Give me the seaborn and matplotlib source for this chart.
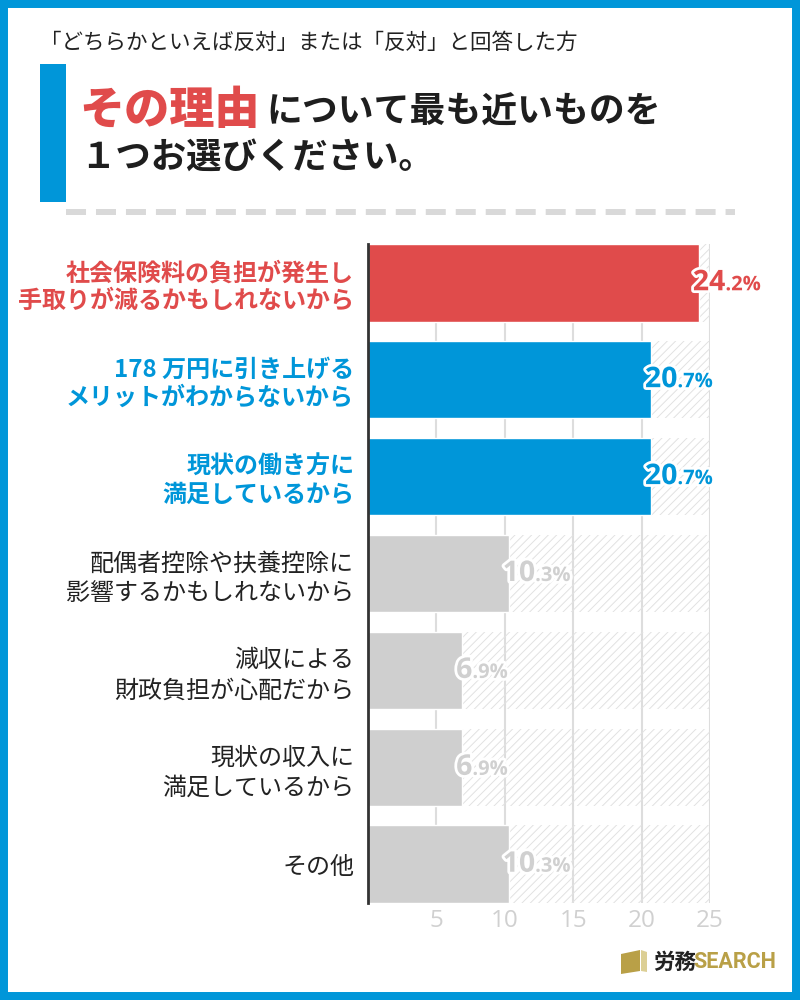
import matplotlib.pyplot as plt
import matplotlib.patheffects as pe
import seaborn as sns
import numpy as np
import pandas as pd
from matplotlib.offsetbox import TextArea, HPacker, AnnotationBbox
from matplotlib.patches import Rectangle, Polygon
from matplotlib.lines import Line2D

# データ
reasons = [
    '社会保険料の負担が発生し\n手取りが減るかもしれないから',
    '178 万円に引き上げる\nメリットがわからないから',
    '現状の働き方に\n満足しているから',
    '配偶者控除や扶養控除に\n影響するかもしれないから',
    '減収による\n財政負担が心配だから',
    '現状の収入に\n満足しているから',
    'その他',
]
shares = [24.2, 20.7, 20.7, 10.3, 6.9, 6.9, 10.3]
xticks = [5, 10, 15, 20, 25]

RED = '#e04b4b'
BLUE = '#0096d9'
GRAY = '#cfcfcf'
bar_colors = [RED, BLUE, BLUE, GRAY, GRAY, GRAY, GRAY]
label_colors = [RED, BLUE, BLUE, '#222222', '#222222', '#222222', '#222222']
value_colors = [RED, BLUE, BLUE, '#d0d0d0', '#d0d0d0', '#d0d0d0', '#d0d0d0']
label_bold = [True, True, True, False, False, False, False]

sns.set_theme(style='white')
plt.rcParams['font.family'] = ['Noto Sans CJK JP', 'DejaVu Sans']
plt.rcParams['hatch.linewidth'] = 0.7

W, H = 800, 1000


def fx(px):
    return px / W


def fy(py):
    return 1 - py / H


fig = plt.figure(figsize=(8, 10), dpi=100)
fig.patch.set_facecolor('white')

# プロット領域
ax = fig.add_axes([fx(368), fy(903), (710 - 368) / W, (903 - 244) / H])
df = pd.DataFrame({'reason': reasons, 'share': shares})
sns.barplot(data=df, x='share', y='reason', hue='reason', palette=bar_colors,
            legend=False, width=0.8, saturation=1, ax=ax, zorder=2)

# 残りの部分の斜線
ax.barh(np.arange(len(shares)), [25 - s for s in shares], left=shares, height=0.8,
        facecolor='none', edgecolor='#e2e2e2', hatch='////', linewidth=0, zorder=1)

ax.set_xlim(0, 25)
ax.set_ylim(len(shares) - 0.6, -0.4)
ax.set_xticks(xticks)
ax.set_xticklabels([str(t) for t in xticks], color='#d0d0d0', fontsize=17.5,
                   family=['Open Sans', 'DejaVu Sans'])
ax.xaxis.grid(True, color='#dddddd', linewidth=1.5)
ax.set_axisbelow(True)
ax.set_xlabel('')
ax.set_ylabel('')
for side in ['top', 'right', 'bottom']:
    ax.spines[side].set_visible(False)
ax.spines['left'].set_color('#333333')
ax.spines['left'].set_linewidth(2)
ax.tick_params(axis='y', length=0, pad=10)
ax.tick_params(axis='x', length=0, pad=4)

for tick, c, b in zip(ax.get_yticklabels(), label_colors, label_bold):
    tick.set_color(c)
    tick.set_fontweight('bold' if b else 'normal')
    tick.set_fontsize(17.3)
    tick.set_linespacing(1.2)
    tick.set_multialignment('right')

# 値ラベル
for i, (s, c) in enumerate(zip(shares, value_colors)):
    whole, frac = f'{s:.1f}'.split('.')
    stroke = [pe.withStroke(linewidth=4, foreground='white')]
    big = TextArea(whole, textprops=dict(color=c, fontsize=20.5, fontweight='bold',
                                         family=['Open Sans', 'DejaVu Sans'], path_effects=stroke))
    small = TextArea('.' + frac + '%', textprops=dict(color=c, fontsize=14.5, fontweight='bold',
                                                      family=['Open Sans', 'DejaVu Sans'], path_effects=stroke))
    box = HPacker(children=[big, small], align='baseline', pad=0, sep=0)
    ab = AnnotationBbox(box, (s, i), xybox=(-4.5, 0), xycoords='data', boxcoords='offset points',
                        box_alignment=(0, 0.5), frameon=False, zorder=5)
    ax.add_artist(ab)

# 見出し
fig.text(fx(40), fy(43), '「どちらかといえば反対」または「反対」と回答した方',
         fontsize=15.5, color='#222222', va='center')
fig.patches.append(Rectangle((fx(40), fy(202)), 26 / W, (202 - 64) / H,
                             transform=fig.transFigure, facecolor=BLUE, edgecolor='none'))
fig.text(fx(79), fy(111), 'その理由', fontsize=32.5, fontweight='black', color=RED, va='center')
fig.text(fx(266), fy(112), 'について最も近いものを', fontsize=25.8, fontweight='bold',
         color='#1e1e1e', va='center')
fig.text(fx(80), fy(157), '１つお選びください。', fontsize=25.5, fontweight='bold',
         color='#1e1e1e', va='center')
fig.lines.append(Line2D([fx(66), fx(735)], [fy(212), fy(212)], transform=fig.transFigure,
                        color='#d9d9d9', linewidth=4.3, linestyle=(0, (3.35, 1.67)),
                        solid_capstyle='butt', dash_capstyle='butt'))

# ロゴ
fig.patches.append(Polygon([(fx(621), fy(954)), (fx(640), fy(950)), (fx(640), fy(971)), (fx(621), fy(974))],
                           closed=True, transform=fig.transFigure, facecolor='#b9a047', edgecolor='none'))
fig.patches.append(Polygon([(fx(641), fy(950)), (fx(647), fy(952)), (fx(647), fy(972)), (fx(641), fy(971))],
                           closed=True, transform=fig.transFigure, facecolor='#dccf95', edgecolor='none'))
fig.text(fx(653), fy(962), '労務', fontsize=15.5, fontweight='bold', color='#222222', va='center')
fig.text(fx(693), fy(962), 'SEARCH', fontsize=15.5, fontweight='bold', color='#b9a047', va='center',
         family=['Roboto', 'DejaVu Sans'])

# 外枠
fig.patches.append(Rectangle((0, 0), 1, 1, transform=fig.transFigure, fill=False,
                             edgecolor=BLUE, linewidth=11.5))

fig.savefig('out.png', dpi=100)
plt.close(fig)
